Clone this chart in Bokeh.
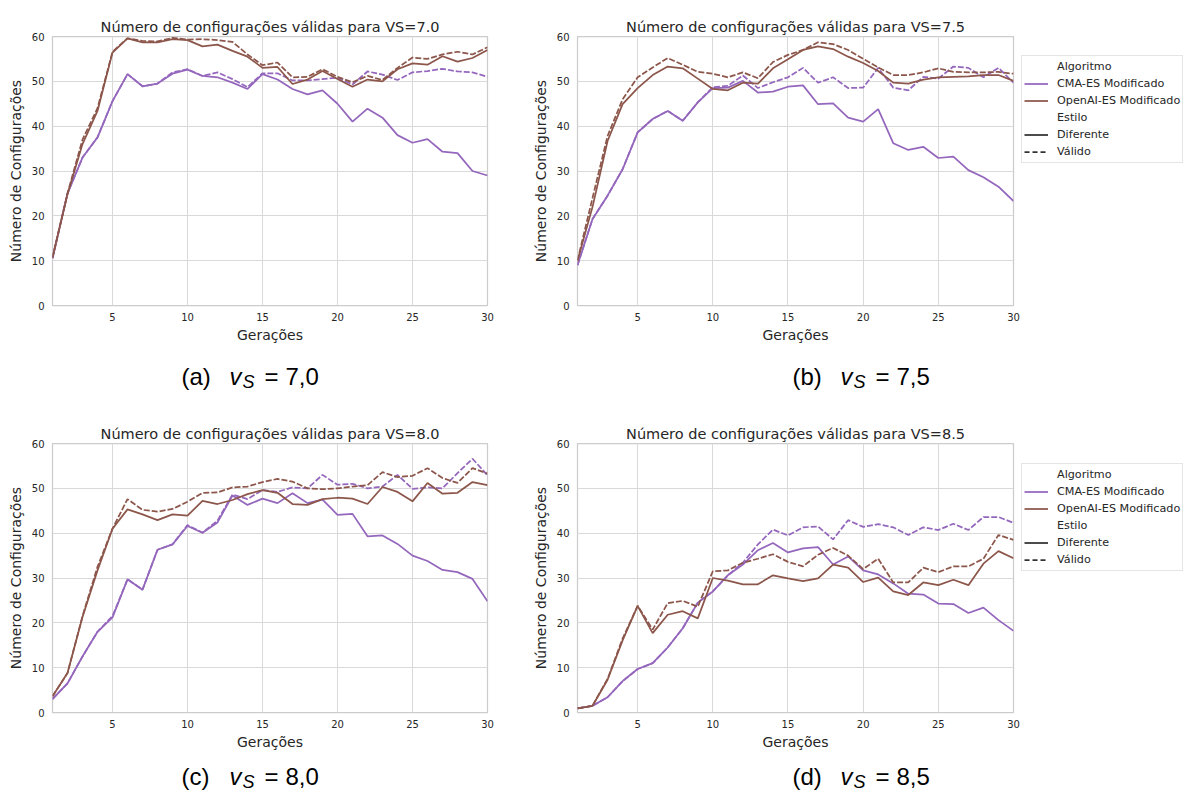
from bokeh.plotting import figure
from bokeh.models import Legend, LegendItem, Label, FixedTicker, Range1d
from bokeh.layouts import column, row
from bokeh.embed import file_html
from bokeh.resources import INLINE

generations = list(range(1, 31))
x_ticks = [5, 10, 15, 20, 25, 30]
y_ticks = [0, 10, 20, 30, 40, 50, 60]

cma_diff_70 = [10.5, 25.0, 33.0, 37.5, 45.6, 51.6, 48.9, 49.5, 51.7, 52.6, 51.2, 50.9, 49.7, 48.3, 51.6, 50.4, 48.3, 47.1, 48.0, 45.0, 41.0, 43.9, 41.9, 38.0, 36.3, 37.1, 34.3, 34.0, 30.0, 29.0]
cma_valid_70 = [10.5, 25.0, 33.0, 37.5, 45.6, 51.6, 48.9, 49.5, 52.0, 52.7, 51.2, 52.0, 50.5, 48.7, 51.8, 51.8, 50.2, 50.2, 50.5, 50.8, 49.3, 52.2, 51.5, 50.3, 52.0, 52.3, 52.8, 52.2, 52.0, 51.0]
openai_diff_70 = [10.7, 24.8, 36.0, 43.4, 56.4, 59.6, 58.7, 58.7, 59.4, 59.2, 57.8, 58.2, 56.8, 55.5, 53.0, 53.2, 49.4, 50.4, 52.3, 50.5, 48.8, 50.4, 50.0, 52.7, 54.0, 53.7, 55.6, 54.4, 55.2, 57.0]
openai_valid_70 = [10.7, 25.0, 37.0, 44.0, 56.6, 59.6, 59.0, 58.9, 59.7, 59.3, 59.4, 59.2, 58.8, 56.0, 53.6, 54.2, 50.9, 51.0, 52.7, 51.0, 49.8, 51.2, 50.3, 53.0, 55.3, 55.0, 56.0, 56.6, 56.0, 57.6]

cma_diff_75 = [9.0, 19.3, 24.5, 30.4, 38.6, 41.6, 43.4, 41.2, 45.3, 48.5, 48.6, 50.1, 47.5, 47.7, 48.8, 49.1, 44.9, 45.1, 41.9, 41.0, 43.8, 36.2, 34.7, 35.4, 32.9, 33.2, 30.2, 28.6, 26.5, 23.3]
cma_valid_75 = [9.0, 19.3, 24.5, 30.4, 38.6, 41.6, 43.4, 41.2, 45.3, 48.7, 49.0, 51.3, 48.5, 49.8, 50.9, 53.0, 49.7, 50.9, 48.5, 48.6, 53.0, 48.6, 48.0, 51.0, 50.6, 53.3, 53.0, 50.9, 53.0, 49.7]
openai_diff_75 = [10.0, 22.0, 36.7, 44.9, 48.5, 51.4, 53.3, 52.9, 50.6, 48.3, 48.0, 49.7, 49.5, 52.9, 54.9, 57.0, 57.8, 57.2, 55.5, 54.1, 52.3, 49.7, 49.5, 50.4, 50.9, 51.0, 51.1, 51.4, 51.4, 50.1]
openai_valid_75 = [10.0, 24.0, 37.8, 46.0, 50.9, 53.1, 55.2, 53.7, 52.1, 51.7, 50.9, 52.0, 50.7, 54.3, 55.9, 57.0, 58.7, 58.3, 57.0, 55.0, 53.1, 51.4, 51.4, 52.0, 52.9, 52.1, 52.0, 52.0, 52.1, 51.7]

cma_diff_80 = [3.0, 6.5, 12.5, 18.0, 21.2, 29.7, 27.4, 36.3, 37.5, 41.6, 40.1, 42.4, 48.4, 46.3, 47.7, 46.7, 48.9, 46.7, 47.5, 44.1, 44.3, 39.3, 39.5, 37.6, 35.0, 33.8, 31.8, 31.3, 29.8, 24.8]
cma_valid_80 = [3.0, 6.5, 12.5, 18.0, 21.5, 29.7, 27.4, 36.3, 37.5, 41.8, 40.1, 42.8, 48.6, 47.6, 49.6, 49.2, 50.2, 50.0, 53.0, 50.8, 51.0, 50.0, 50.4, 53.0, 49.9, 50.2, 50.0, 53.4, 56.6, 52.9]
openai_diff_80 = [3.6, 8.8, 21.3, 31.7, 41.0, 45.3, 44.2, 42.9, 44.2, 43.9, 47.2, 46.5, 47.4, 48.7, 49.6, 49.0, 46.5, 46.3, 47.6, 47.9, 47.7, 46.5, 50.3, 49.2, 47.1, 51.2, 48.8, 49.0, 51.4, 50.7]
openai_valid_80 = [3.6, 8.8, 21.5, 32.5, 41.0, 47.6, 45.2, 44.8, 45.4, 47.0, 49.0, 49.1, 50.2, 50.4, 51.4, 52.1, 51.5, 50.0, 49.8, 50.0, 50.4, 50.7, 53.6, 52.5, 52.8, 54.5, 52.3, 51.2, 54.5, 53.3]

cma_diff_85 = [0.9, 1.5, 3.4, 7.0, 9.7, 11.0, 14.5, 18.8, 24.5, 27.0, 30.6, 33.0, 36.2, 37.8, 35.7, 36.6, 36.9, 33.0, 34.8, 31.7, 30.8, 28.8, 26.5, 26.3, 24.3, 24.2, 22.2, 23.4, 20.6, 18.2]
cma_valid_85 = [0.9, 1.5, 3.4, 7.0, 9.7, 11.0, 14.5, 18.8, 24.5, 27.0, 30.6, 33.4, 37.5, 40.8, 39.5, 41.3, 41.5, 38.6, 42.9, 41.4, 42.0, 41.3, 39.6, 41.3, 40.7, 42.1, 40.7, 43.6, 43.6, 42.3]
openai_diff_85 = [0.9, 1.5, 7.3, 16.1, 23.8, 17.7, 21.8, 22.6, 21.0, 30.0, 29.4, 28.6, 28.6, 30.6, 29.9, 29.3, 29.9, 33.0, 32.3, 29.1, 30.1, 27.0, 26.2, 29.0, 28.4, 29.6, 28.4, 33.2, 36.0, 34.4]
openai_valid_85 = [0.9, 1.5, 7.5, 16.5, 23.8, 18.5, 24.4, 24.9, 23.6, 31.5, 31.7, 33.4, 34.3, 35.3, 33.6, 32.6, 35.2, 36.7, 35.0, 32.0, 34.3, 29.0, 29.0, 32.3, 31.3, 32.6, 32.6, 34.3, 39.6, 38.5]

titles = ["Número de configurações válidas para VS=7.0",
          "Número de configurações válidas para VS=7.5",
          "Número de configurações válidas para VS=8.0",
          "Número de configurações válidas para VS=8.5"]
caption_letters = ["(a)", "(b)", "(c)", "(d)"]
caption_values = ["7,0", "7,5", "8,0", "8,5"]
algorithms = ["CMA-ES Modificado", "OpenAI-ES Modificado"]
styles = ["Diferente", "Válido"]

PURPLE = "#9467bd"
BROWN = "#8c564b"
DARK = "#333333"
TEXT = "#262626"
GRIDC = "#d9d9d9"
FONT = "DejaVu Sans"
CAPFONT = "Liberation Sans"
LW = 1.75
DASH = "6 2"


def make_panel(idx, series, width, height, top, bottom, right):
    p = figure(width=width, height=height, output_backend="svg", toolbar_location=None,
               x_range=Range1d(1, 30), y_range=Range1d(0, 60),
               min_border_left=52, min_border_right=right,
               min_border_top=top, min_border_bottom=bottom)
    p.title.text = titles[idx]
    p.title.align = "center"
    p.title.text_font = FONT
    p.title.text_font_size = "14.5px"
    p.title.text_font_style = "normal"
    p.title.text_color = TEXT
    p.title.standoff = 4
    p.outline_line_color = "#cccccc"
    p.outline_line_width = 1.25
    p.background_fill_color = "white"
    p.border_fill_color = "white"
    for ax in (p.xaxis[0], p.yaxis[0]):
        ax.axis_line_color = None
        ax.major_tick_line_color = None
        ax.minor_tick_line_color = None
        ax.major_tick_out = 0
        ax.major_tick_in = 0
        ax.major_label_text_font = FONT
        ax.major_label_text_font_size = "10px"
        ax.major_label_text_color = TEXT
        ax.axis_label_text_font = FONT
        ax.axis_label_text_font_size = "14px"
        ax.axis_label_text_font_style = "normal"
        ax.axis_label_text_color = TEXT
    p.xaxis[0].ticker = FixedTicker(ticks=x_ticks)
    p.yaxis[0].ticker = FixedTicker(ticks=y_ticks)
    p.xaxis[0].axis_label = "Gerações"
    p.yaxis[0].axis_label = "Número de Configurações"
    p.xaxis[0].major_label_standoff = 7
    p.yaxis[0].major_label_standoff = 8
    p.xaxis[0].axis_label_standoff = 3
    p.yaxis[0].axis_label_standoff = 5
    p.xgrid[0].ticker = FixedTicker(ticks=x_ticks)
    p.ygrid[0].ticker = FixedTicker(ticks=y_ticks)
    p.xgrid.grid_line_color = GRIDC
    p.ygrid.grid_line_color = GRIDC
    p.xgrid.grid_line_width = 1
    p.ygrid.grid_line_width = 1

    cma_d, cma_v, oa_d, oa_v = series
    p.line(generations, cma_d, line_color=PURPLE, line_width=LW)
    p.line(generations, cma_v, line_color=PURPLE, line_width=LW, line_dash=DASH)
    p.line(generations, oa_d, line_color=BROWN, line_width=LW)
    p.line(generations, oa_v, line_color=BROWN, line_width=LW, line_dash=DASH)
    return p


def legend_box(width, height, y_bottom):
    lf = figure(width=width, height=height, output_backend="svg", toolbar_location=None,
                x_range=Range1d(0, 1), y_range=Range1d(0, 1),
                x_axis_location=None, y_axis_location=None, min_border=0,
                outline_line_color=None)
    for g in lf.grid:
        g.visible = False
    nan = float("nan")
    r_blank1 = lf.line([0, 1], [nan, nan], line_alpha=0)
    r_blank2 = lf.line([0, 1], [nan, nan], line_alpha=0)
    r_cma = lf.line([0, 1], [nan, nan], line_color=PURPLE, line_width=LW)
    r_oa = lf.line([0, 1], [nan, nan], line_color=BROWN, line_width=LW)
    r_solid = lf.line([0, 1], [nan, nan], line_color=DARK, line_width=LW)
    r_dash = lf.line([0, 1], [nan, nan], line_color=DARK, line_width=LW, line_dash="5 3")
    items = [LegendItem(label="Algoritmo", renderers=[r_blank1]),
             LegendItem(label=algorithms[0], renderers=[r_cma]),
             LegendItem(label=algorithms[1], renderers=[r_oa]),
             LegendItem(label="Estilo", renderers=[r_blank2]),
             LegendItem(label=styles[0], renderers=[r_solid]),
             LegendItem(label=styles[1], renderers=[r_dash])]
    leg = Legend(items=items, location=(0, y_bottom),
                 label_text_font=FONT, label_text_font_size="11.2px",
                 label_text_color=TEXT, label_height=17, glyph_height=17,
                 glyph_width=24, label_standoff=9, spacing=0, padding=2,
                 border_line_color="#cccccc", border_line_width=1,
                 background_fill_alpha=0.85, margin=0)
    lf.add_layout(leg, "center")
    return lf


def caption_strip(idx, width, height, x0, baseline):
    c = figure(width=width, height=height, output_backend="svg", toolbar_location=None,
               x_range=Range1d(0, width), y_range=Range1d(0, height),
               x_axis_location=None, y_axis_location=None, min_border=0,
               outline_line_color=None)
    for g in c.grid:
        g.visible = False
    common = dict(x_units="screen", y_units="screen", text_color="black",
                  text_baseline="alphabetic", text_font=CAPFONT)
    c.add_layout(Label(x=x0, y=baseline, text=caption_letters[idx],
                       text_font_size="24px", **common))
    c.add_layout(Label(x=x0 + 48, y=baseline, text="v", text_font_style="italic",
                       text_font_size="24px", **common))
    c.add_layout(Label(x=x0 + 61, y=baseline - 6, text="S", text_font_style="italic",
                       text_font_size="18px", **common))
    c.add_layout(Label(x=x0 + 83, y=baseline, text="=",
                       text_font_size="24px", **common))
    c.add_layout(Label(x=x0 + 104, y=baseline, text=caption_values[idx],
                       text_font_size="24px", **common))
    return c


pa = make_panel(0, (cma_diff_70, cma_valid_70, openai_diff_70, openai_valid_70), 525, 345, 36, 40, 38)
pb = make_panel(1, (cma_diff_75, cma_valid_75, openai_diff_75, openai_valid_75), 496, 345, 36, 40, 8)
lb = legend_box(162, 345, 142)
pc = make_panel(2, (cma_diff_80, cma_valid_80, openai_diff_80, openai_valid_80), 525, 352, 43, 40, 38)
pd = make_panel(3, (cma_diff_85, cma_valid_85, openai_diff_85, openai_valid_85), 496, 352, 43, 40, 8)
ld = legend_box(162, 352, 141)

ca = caption_strip(0, 525, 55, 181, 24.5)
cb = caption_strip(1, 658, 55, 181 + 611 - 525, 24.5)
cc = caption_strip(2, 525, 42, 181, 18.5)
cd = caption_strip(3, 658, 42, 181 + 611 - 525, 18.5)

layout = column(row(pa, pb, lb, spacing=0), row(ca, cb, spacing=0),
                row(pc, pd, ld, spacing=0), row(cc, cd, spacing=0), spacing=0)

html = file_html(layout, INLINE, title="plot")
html = html.replace("<head>", "<head><style>html,body{margin:0;padding:0;}</style>", 1)
open("out.html", "w").write(html)
